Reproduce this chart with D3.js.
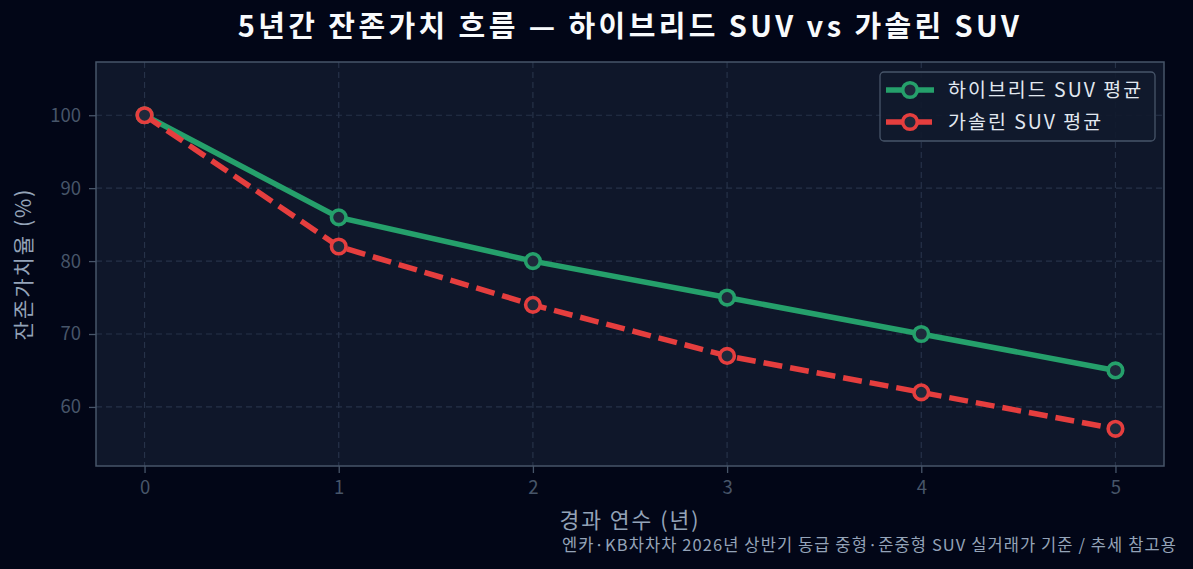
<!DOCTYPE html>
<html>
<head>
<meta charset="utf-8">
<script src="https://cdn.jsdelivr.net/npm/d3@7"></script>
<style>
  html, body { margin: 0; padding: 0; background: #020617; }
  svg { display: block; font-family: "Noto Sans CJK KR", "Noto Sans", sans-serif; }
</style>
</head>
<body>
<svg id="chart" width="1193" height="569"></svg>
<script>
// data
var years = [0, 1, 2, 3, 4, 5];
var hybrid = [100, 86, 80, 75, 70, 65];
var gasoline = [100, 82, 74, 67, 62, 57];
var yTicks = [60, 70, 80, 90, 100];
var seriesNames = ["하이브리드 SUV 평균", "가솔린 SUV 평균"];

var W = 1193, H = 569,
    margin = {left: 96, right: 29, top: 62, bottom: 103};

var svg = d3.select("#chart");

svg.append("rect").attr("width", W).attr("height", H).attr("fill", "#020617");

var x = d3.scaleLinear().domain([-0.25, 5.25]).range([margin.left, W - margin.right]);
var y = d3.scaleLinear().domain([51.9, 107.3]).range([H - margin.bottom, margin.top]);

// plot background
svg.append("rect")
  .attr("x", x.range()[0]).attr("y", y.range()[1])
  .attr("width", x.range()[1] - x.range()[0])
  .attr("height", y.range()[0] - y.range()[1])
  .attr("fill", "#0f172a");

// grid
var grid = svg.append("g").attr("stroke", "#263248").attr("stroke-width", 1.2).attr("stroke-dasharray", "6,4");
grid.selectAll(".gx").data(years).enter().append("line")
  .attr("x1", function(d) { return x(d); }).attr("x2", function(d) { return x(d); })
  .attr("y1", y.range()[1]).attr("y2", y.range()[0]);
grid.selectAll(".gy").data(yTicks).enter().append("line")
  .attr("y1", function(d) { return y(d); }).attr("y2", function(d) { return y(d); })
  .attr("x1", x.range()[0]).attr("x2", x.range()[1]);

// axes
var xAxis = svg.append("g")
  .attr("transform", "translate(0," + (H - margin.bottom) + ")")
  .call(d3.axisBottom(x).tickValues(years).tickSize(7).tickPadding(8).tickFormat(d3.format("d")));
var yAxis = svg.append("g")
  .attr("transform", "translate(" + margin.left + ",0)")
  .call(d3.axisLeft(y).tickValues(yTicks).tickSize(7).tickPadding(8));
[xAxis, yAxis].forEach(function(a) {
  a.select(".domain").remove();
  a.selectAll("line").attr("stroke", "#475569").attr("stroke-width", 1.3);
  a.selectAll("text").attr("fill", "#475569").attr("font-size", 18.5)
    .attr("font-family", "'Noto Sans CJK KR', sans-serif");
});

// frame
svg.append("rect")
  .attr("x", x.range()[0]).attr("y", y.range()[1])
  .attr("width", x.range()[1] - x.range()[0])
  .attr("height", y.range()[0] - y.range()[1])
  .attr("fill", "none").attr("stroke", "#475569").attr("stroke-width", 1.5);

var line = d3.line().x(function(d, i) { return x(years[i]); }).y(function(d) { return y(d); });

var series = [
  {name: seriesNames[0], values: hybrid, color: "#25a06b", dash: null},
  {name: seriesNames[1], values: gasoline, color: "#e53e3e", dash: "19,8"}
];

series.forEach(function(s) {
  svg.append("path")
    .datum(s.values)
    .attr("d", line)
    .attr("fill", "none")
    .attr("stroke", s.color)
    .attr("stroke-width", 5.5)
    .attr("stroke-dasharray", s.dash);
  svg.selectAll(null).data(s.values).enter().append("circle")
    .attr("cx", function(d, i) { return x(years[i]); })
    .attr("cy", function(d) { return y(d); })
    .attr("r", 7.3)
    .attr("fill", "#1e293b")
    .attr("stroke", s.color)
    .attr("stroke-width", 3.6);
});

// legend
var lg = svg.append("g").attr("transform", "translate(880,72)");
lg.append("rect").attr("width", 275).attr("height", 69).attr("rx", 4)
  .attr("fill", "#111a2c").attr("fill-opacity", 0.9)
  .attr("stroke", "#475569").attr("stroke-width", 1.3);
series.forEach(function(s, i) {
  var yy = 18 + i * 32;
  lg.append("line").attr("x1", 6).attr("x2", 54).attr("y1", yy).attr("y2", yy)
    .attr("stroke", s.color).attr("stroke-width", 5.5)
    .attr("stroke-dasharray", s.dash ? "19,8" : null);
  lg.append("circle").attr("cx", 30).attr("cy", yy).attr("r", 7.3)
    .attr("fill", "#1e293b").attr("stroke", s.color).attr("stroke-width", 3.6);
  lg.append("text").attr("x", 68).attr("y", yy).attr("dy", "0.35em")
    .attr("fill", "#e2e8f0").attr("font-size", 19.5).attr("letter-spacing", 2)
    .text(s.name);
});

// title and labels
svg.append("text").attr("x", (x.range()[0] + x.range()[1]) / 2).attr("y", 27)
  .attr("dy", "0.35em").attr("text-anchor", "middle")
  .attr("fill", "#f8fafc").attr("font-size", 29).attr("font-weight", "bold")
  .attr("letter-spacing", 3.4)
  .text("5년간 잔존가치 흐름 — 하이브리드 SUV vs 가솔린 SUV");

svg.append("text").attr("x", (x.range()[0] + x.range()[1]) / 2).attr("y", 520)
  .attr("dy", "0.35em").attr("text-anchor", "middle")
  .attr("fill", "#94a3b8").attr("font-size", 21.5).attr("letter-spacing", 2)
  .text("경과 연수 (년)");

svg.append("text")
  .attr("transform", "translate(24," + ((y.range()[0] + y.range()[1]) / 2) + ") rotate(-90)")
  .attr("dy", "0.35em").attr("text-anchor", "middle")
  .attr("fill", "#94a3b8").attr("font-size", 21).attr("letter-spacing", 2)
  .text("잔존가치율 (%)");

svg.append("text").attr("x", 1177).attr("y", 545)
  .attr("dy", "0.35em").attr("text-anchor", "end")
  .attr("fill", "#94a3b8").attr("font-size", 16.5).attr("letter-spacing", 1.1)
  .text("엔카·KB차차차 2026년 상반기 동급 중형·준중형 SUV 실거래가 기준 / 추세 참고용");
</script>
</body>
</html>
